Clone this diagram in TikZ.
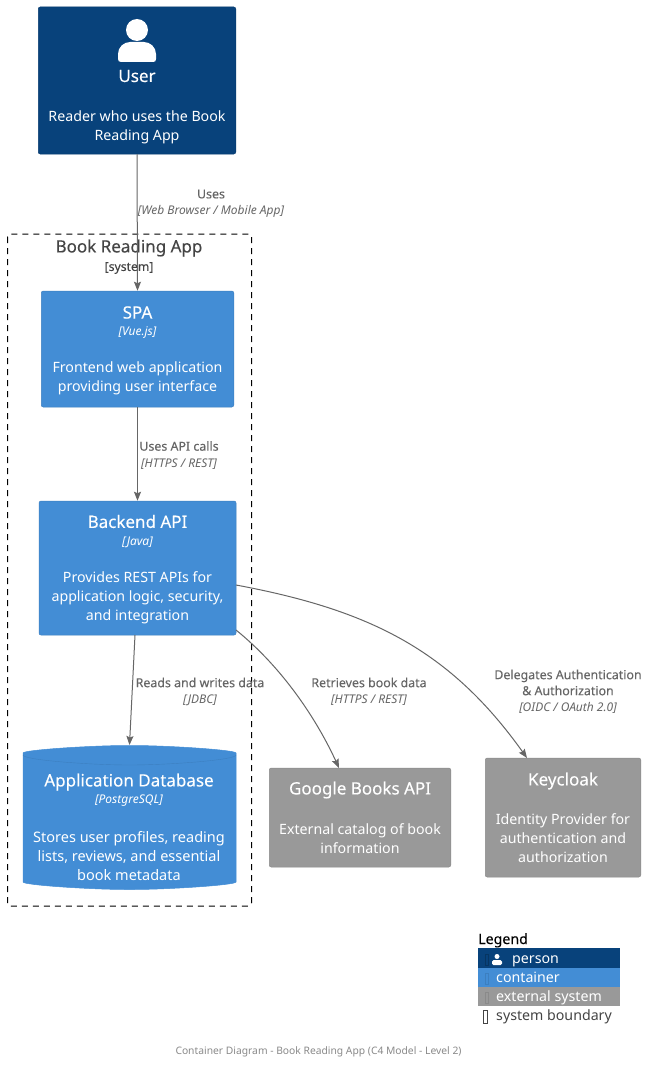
\documentclass[tikz,border=0pt]{standalone}
\usepackage{fontspec}
\setmainfont{Noto Sans}
\newfontfamily\medfont[FakeBold=0.12]{Noto Sans}
\usetikzlibrary{arrows.meta}
\definecolor{personc}{HTML}{08427B}
\definecolor{contc}{HTML}{438DD5}
\definecolor{contl}{HTML}{3C7FC0}
\definecolor{extc}{HTML}{999999}
\definecolor{extl}{HTML}{8A8A8A}
\definecolor{edgec}{HTML}{666666}
\definecolor{boundc}{HTML}{444444}
\tikzset{
  x=1pt,y=-1pt,
  box/.style={rounded corners=2pt,line width=.5pt},
  personbox/.style={box,fill=personc,draw=personc!90!black},
  contbox/.style={box,fill=contc,draw=contl},
  extbox/.style={box,fill=extc,draw=extl},
  txt/.style={inner sep=0pt,align=center,text=white,font=\fontsize{14.2}{19}\selectfont},
  txtw/.style={txt,font=\fontsize{14.5}{19}\selectfont},
  ttl/.style={inner sep=0pt,align=center,text=white,font=\medfont\fontsize{17}{19}\selectfont},
  tech/.style={inner sep=0pt,align=center,text=white,font=\fontsize{12}{16}\selectfont\itshape},
  lbl/.style={inner sep=0pt,align=center,text=edgec,font=\medfont\fontsize{12.4}{16}\selectfont},
  lbli/.style={inner sep=0pt,align=center,text=edgec,font=\fontsize{12}{16}\selectfont\itshape},
  conn/.style={draw=edgec,line width=1pt,-{Stealth[length=9pt,width=7pt,inset=1.5pt]}},
  legt/.style={inner sep=0pt,anchor=base west,font=\fontsize{14.2}{16}\selectfont},
  tofu/.style={draw,line width=.5pt,fill=none},
}
\begin{document}
\begin{tikzpicture}
\useasboundingbox (0,0) rectangle (649,1065);
\fill[white] (0,0) rectangle (649,1065);

% boundary
\draw[black,line width=1pt,dash pattern=on 6pt off 5pt,rounded corners=3pt] (7.5,234) rectangle (251.5,906);
\node[inner sep=0pt,text=boundc,font=\medfont\fontsize{17}{19}\selectfont] (bt) at (129,248) {Book Reading App};
\node[inner sep=0pt,text=boundc,font=\medfont\fontsize{12.2}{14}\selectfont] (bs) at (129,268) {[system]};

% boxes as named nodes
\node[personbox,draw,minimum width=197.5pt,minimum height=147pt,inner sep=0pt] (user) at (137,80.5) {};
\fill[white] (137,30) circle (11pt);
\fill[white] (118,59) .. controls (118,61) and (119,62) .. (121,62) -- (153,62) .. controls (155,62) and (156,61) .. (156,59) -- (156,54) .. controls (156,47) and (150,42) .. (144,42) -- (130,42) .. controls (124,42) and (118,47) .. (118,54) -- cycle;
\node[ttl] (usert) at (137,76) {User};
\node[txt] (userd) at (137,127) {Reader who uses the Book\\Reading App};

\node[contbox,draw,minimum width=192.5pt,minimum height=116pt,inner sep=0pt] (spa) at (137.5,349) {};
\node[ttl] (spat) at (137.5,312.5) {SPA};
\node[tech] (spas) at (137.5,333) {[Vue.js]};
\node[txt] (spad) at (137.5,378.5) {Frontend web application\\providing user interface};

\node[contbox,draw,minimum width=197pt,minimum height=134pt,inner sep=0pt] (api) at (137.5,568) {};
\node[ttl] (apit) at (137.5,521.5) {Backend API};
\node[tech] (apis) at (137.5,542) {[Java]};
\node[txt] (apid) at (137.5,598) {Provides REST APIs for\\application logic, security,\\and integration};

% database
\path[contbox,draw=contc] (23,755) .. controls (23,750) and (90,745.5) .. (129.5,745.5) .. controls (169,745.5) and (236,750) .. (236,755) -- (236,880) .. controls (236,885) and (169,889.5) .. (129.5,889.5) .. controls (90,889.5) and (23,885) .. (23,880) -- cycle;
\draw[contl,line width=.4pt] (23,755) .. controls (23,760) and (90,765) .. (129.5,765) .. controls (169,765) and (236,760) .. (236,755);
\coordinate (dbtop) at (129.5,745);
\node[ttl] (dbt) at (129,782) {Application Database};
\node[tech] (dbs) at (129,801) {[PostgreSQL]};
\node[txtw] (dbd) at (129,856.5) {Stores user profiles, reading\\lists, reviews, and essential\\book metadata};

\node[extbox,draw,minimum width=181.5pt,minimum height=99pt,inner sep=0pt] (gb) at (360,817.5) {};
\node[ttl] (gbt) at (360,790) {Google Books API};
\node[txt] (gbd) at (360,839) {External catalog of book\\information};

\node[extbox,draw,minimum width=155.5pt,minimum height=119pt,inner sep=0pt] (kc) at (563,817.5) {};
\node[ttl] (kct) at (563,781) {Keycloak};
\node[txt] (kcd) at (563,838.5) {Identity Provider for\\authentication and\\authorization};

% connectors
\coordinate (aa) at (135,635);
\coordinate (ab) at (236,630);
\coordinate (ac) at (236,585);
\coordinate (gbin) at (339,768);
\coordinate (kcin) at (527,758);
\draw[conn] (user.south) -- (spa.north);
\draw[conn] (spa.south) -- (api.north-|spa.south);
\draw[conn] (aa) -- (dbtop);
\draw[conn] (ab) .. controls (283,668) and (317,720) .. (gbin);
\draw[conn] (ac) .. controls (370,610) and (450,650) .. (kcin);

% connector labels
\node[lbl] (l1) at (211,194) {Uses};
\node[lbli] (l1b) at (211,211) {[Web Browser / Mobile App]};
\node[lbl] (l2) at (179,446) {Uses API calls};
\node[lbli] (l2b) at (179,464) {[HTTPS / REST]};
\node[lbl] (l3) at (200,682.5) {Reads and writes data};
\node[lbli] (l3b) at (200,700) {[JDBC]};
\node[lbl] (l4) at (369,682.5) {Retrieves book data};
\node[lbli] (l4b) at (369,700) {[HTTPS / REST]};
\node[lbl] (l5) at (568,682.5) {Delegates Authentication\\\& Authorization};
\node[lbli] (l5b) at (568,708) {[OIDC / OAuth 2.0]};

% legend
\node[inner sep=0pt,anchor=base west,text=black,font=\medfont\fontsize{14.2}{16}\selectfont] (lg) at (478,944) {Legend};
\fill[personc] (478,948) rectangle (620,968);
\fill[contc] (478,968) rectangle (620,987);
\fill[extc] (478,987) rectangle (620,1006);
\draw[tofu,personc!80!black] (485,954) rectangle (488.5,965);
\draw[tofu,contl] (485,973) rectangle (488.5,984);
\draw[tofu,extl] (485,992) rectangle (488.5,1003);
\draw[tofu,boundc] (483.5,1010.5) rectangle (487,1023);
\fill[white] (497,956.5) circle (2.5pt);
\fill[white,rounded corners=1.5pt] (492,965) rectangle (502,960);
\node[legt,text=white] (lg1) at (512,963) {person};
\node[legt,text=white] (lg2) at (496,982) {container};
\node[legt,text=white] (lg3) at (496,1001) {external system};
\node[legt,text=boundc] (lg4) at (496,1020) {system boundary};

\node[inner sep=0pt,text=extc!90!black,font=\fontsize{10.3}{12}\selectfont] (cap) at (318.5,1052) {Container Diagram - Book Reading App (C4 Model - Level 2)};
\end{tikzpicture}
\end{document}
